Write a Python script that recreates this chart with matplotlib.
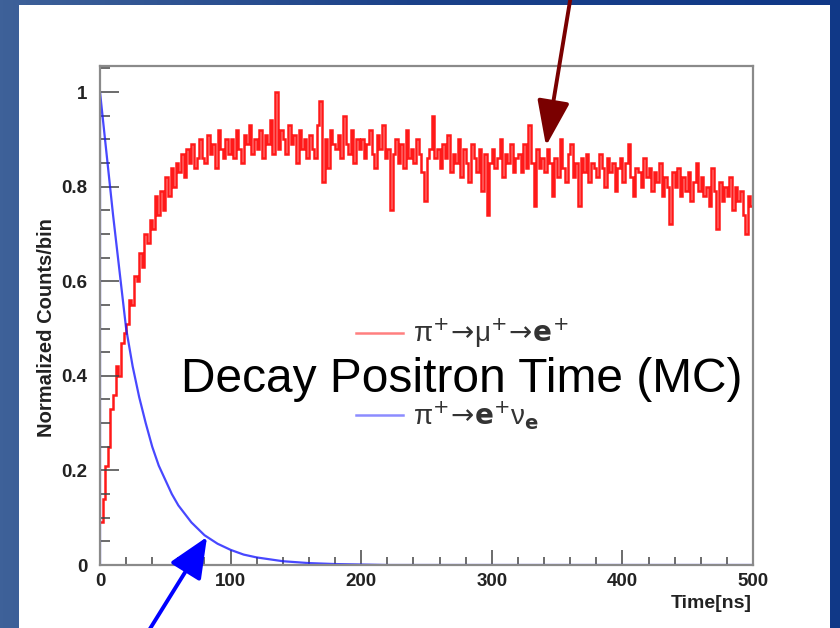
import matplotlib
matplotlib.use("Agg")
import matplotlib.pyplot as plt
import numpy as np
from matplotlib.patches import Rectangle, FancyArrowPatch
from matplotlib.ticker import MultipleLocator

# pi -> mu -> e decay time, 2 ns bins from 0 to 500 ns
bin_edges = list(range(0, 502, 2))
red_counts = [
    0.09, 0.14, 0.21, 0.25, 0.33, 0.36, 0.42, 0.40, 0.47, 0.49,
    0.51, 0.56, 0.55, 0.61, 0.60, 0.66, 0.63, 0.70, 0.68, 0.73,
    0.71, 0.78, 0.74, 0.79, 0.75, 0.82, 0.78, 0.84, 0.80, 0.85,
    0.83, 0.87, 0.82, 0.88, 0.85, 0.89, 0.84, 0.86, 0.90, 0.86,
    0.85, 0.91, 0.87, 0.89, 0.84, 0.92, 0.88, 0.86, 0.90, 0.87,
    0.90, 0.86, 0.92, 0.88, 0.85, 0.91, 0.89, 0.93, 0.87, 0.90,
    0.88, 0.92, 0.86, 0.91, 0.89, 0.94, 0.87, 1.00, 0.88, 0.92,
    0.90, 0.87, 0.93, 0.89, 0.91, 0.85, 0.92, 0.88, 0.90, 0.86,
    0.91, 0.88, 0.86, 0.93, 0.98, 0.81, 0.90, 0.84, 0.92, 0.89,
    0.88, 0.91, 0.86, 0.95, 0.89, 0.87, 0.92, 0.85, 0.90, 0.88,
    0.90, 0.86, 0.89, 0.92, 0.87, 0.84, 0.91, 0.88, 0.93, 0.86,
    0.88, 0.75, 0.87, 0.90, 0.85, 0.89, 0.84, 0.92, 0.86, 0.88,
    0.85, 0.90, 0.87, 0.83, 0.77, 0.86, 0.88, 0.95, 0.86, 0.88,
    0.84, 0.89, 0.86, 0.91, 0.83, 0.87, 0.85, 0.90, 0.82, 0.88,
    0.85, 0.81, 0.89, 0.86, 0.83, 0.88, 0.79, 0.87, 0.74, 0.85,
    0.88, 0.84, 0.86, 0.90, 0.82, 0.87, 0.85, 0.89, 0.83, 0.86,
    0.87, 0.83, 0.89, 0.84, 0.93, 0.85, 0.76, 0.88, 0.84, 0.86,
    0.83, 0.88, 0.85, 0.78, 0.86, 0.82, 0.90, 0.84, 0.81, 0.87,
    0.89, 0.82, 0.85, 0.76, 0.86, 0.83, 0.87, 0.81, 0.85, 0.84,
    0.82, 0.87, 0.84, 0.80, 0.86, 0.83, 0.85, 0.79, 0.84, 0.86,
    0.81, 0.85, 0.89, 0.82, 0.78, 0.84, 0.83, 0.80, 0.86, 0.82,
    0.84, 0.79, 0.83, 0.81, 0.85, 0.78, 0.82, 0.80, 0.72, 0.83,
    0.80, 0.84, 0.78, 0.82, 0.79, 0.83, 0.77, 0.81, 0.85, 0.79,
    0.82, 0.78, 0.80, 0.76, 0.84, 0.79, 0.71, 0.81, 0.77, 0.80,
    0.78, 0.82, 0.75, 0.80, 0.77, 0.79, 0.74, 0.70, 0.78, 0.76,
]

# pi -> e nu decay time
blue_time = [0, 0, 5, 10, 15, 20, 25, 30, 35, 40, 45, 50, 55, 60, 70, 80,
             90, 100, 110, 120, 140, 160, 180, 200, 220, 500]
blue_counts = [0, 1.0, 0.87, 0.74, 0.62, 0.50, 0.42, 0.355, 0.30, 0.25, 0.21,
               0.18, 0.15, 0.126, 0.09, 0.063, 0.045, 0.032, 0.022, 0.016,
               0.008, 0.004, 0.002, 0.001, 0.0, 0.0]

legend_labels = [r"π$^{+}\!\rightarrow\!$μ$^{+}\!\rightarrow\!\mathbf{e}^{+}$",
                 r"π$^{+}\!\rightarrow\!\mathbf{e}^{+}$ν$_{\mathbf{e}}$"]

W, H = 840, 628
fig = plt.figure(figsize=(W / 100, H / 100), dpi=100)

# slide background
bg = fig.add_axes([0, 0, 1, 1], zorder=0)
grad = np.linspace(0, 1, 256)[None, :]
cmap = matplotlib.colors.LinearSegmentedColormap.from_list("slide", ["#3e6199", "#1b4189", "#103887"])
bg.imshow(grad, aspect="auto", cmap=cmap, extent=[0, W, H, 0])
bg.add_patch(Rectangle((19, 5), 811, 640, facecolor="white", edgecolor="none"))
bg.set_xlim(0, W)
bg.set_ylim(H, 0)
bg.axis("off")

# main plot
ax = fig.add_axes([100 / W, 1 - 565 / H, 653 / W, 499 / H], zorder=1)
ax.set_facecolor("none")
ax.stairs(red_counts, bin_edges, baseline=None, color="#ff0000", lw=1.8, alpha=0.9,
          label=legend_labels[0])
ax.plot(blue_time, blue_counts, color="#1a1aff", lw=1.6, alpha=0.8, label=legend_labels[1])

ax.set_xlim(0, 500)
ax.set_ylim(0, 1.055)
ax.xaxis.set_minor_locator(MultipleLocator(20))
ax.yaxis.set_minor_locator(MultipleLocator(0.05))
ax.set_yticks([0, 0.2, 0.4, 0.6, 0.8, 1.0], ["0", "0.2", "0.4", "0.6", "0.8", "1"])
ax.set_xticks([0, 100, 200, 300, 400, 500], ["0", "100", "200", "300", "400", "500"])

lab = dict(family="Liberation Sans", weight="bold", color="#222222")
for t in ax.get_xticklabels() + ax.get_yticklabels():
    t.set_fontfamily("Liberation Sans")
    t.set_fontweight("bold")
    t.set_fontsize(13.5)
    t.set_color("#222222")
ax.tick_params(axis="y", which="major", direction="in", length=13.5, width=1.1, color="#444444", pad=9)
ax.tick_params(axis="y", which="minor", direction="in", length=7, width=1.1, color="#444444")
ax.tick_params(axis="x", which="major", direction="in", length=11, width=1.1, color="#444444", pad=6)
ax.tick_params(axis="x", which="minor", direction="in", length=6, width=1.1, color="#444444")
for s in ax.spines.values():
    s.set_color("#8a8a8a")
    s.set_linewidth(1.6)

fig.text(47 / W, 1 - 328 / H, "Normalized Counts/bin", rotation=90, ha="center", va="center",
         fontsize=14.5, **lab)
fig.text(752 / W, 1 - 604 / H, "Time[ns]", ha="right", va="center", fontsize=14, **lab)

leg = fig.legend(loc="center", bbox_to_anchor=(462 / W, 1 - 374 / H), frameon=False,
                 prop=dict(family=["Liberation Sans", "DejaVu Sans"], size=20),
                 handlelength=1.7, handletextpad=0.35, labelspacing=1.75)
for line in leg.get_lines():
    line.set_alpha(0.5)
    line.set_linewidth(1.8)
for t in leg.get_texts():
    t.set_color("#333333")

fig.text(462 / W, 1 - 379 / H, "Decay Positron Time (MC)", ha="center", va="center",
         fontsize=34.5, family="Liberation Sans", color="black", zorder=5)

# arrows
ov = fig.add_axes([0, 0, 1, 1], zorder=3)
ov.set_xlim(0, W)
ov.set_ylim(H, 0)
ov.axis("off")
ov.patch.set_alpha(0)
ov.add_patch(FancyArrowPatch((571, -5), (546, 146), arrowstyle="-|>,head_length=28,head_width=10",
                             mutation_scale=1, lw=2.8, color="#7a0000", shrinkA=0, shrinkB=0))
ov.add_patch(FancyArrowPatch((143, 640), (207, 537), arrowstyle="-|>,head_length=25,head_width=11",
                             mutation_scale=1, lw=2.8, color="#0000ff", shrinkA=0, shrinkB=0))

fig.savefig("out.png", dpi=100)
